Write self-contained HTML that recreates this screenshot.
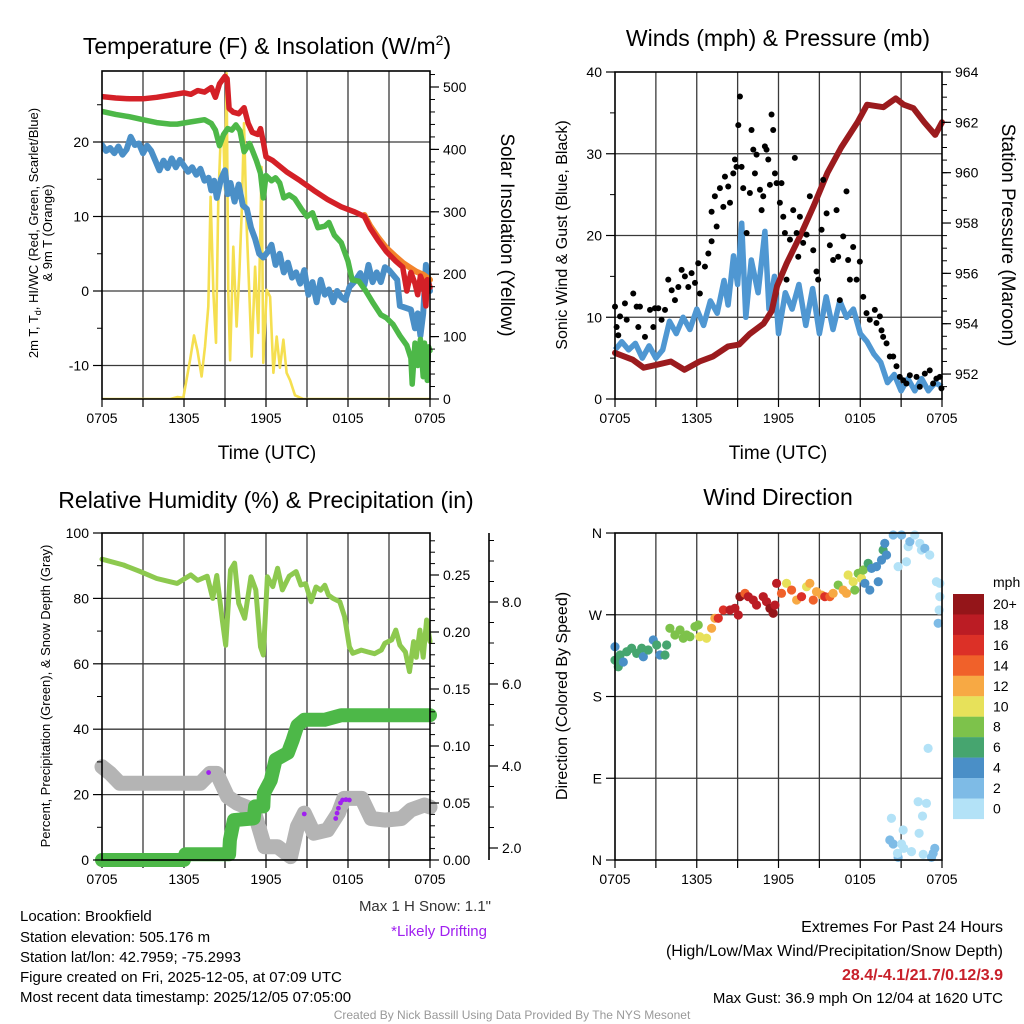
<!DOCTYPE html>
<html><head><meta charset="utf-8">
<style>
html,body{margin:0;padding:0;background:#fff;}
svg{display:block;font-family:"Liberation Sans",sans-serif;}
</style></head>
<body>
<svg id="fig" width="1024" height="1024" viewBox="0 0 1024 1024" xmlns="http://www.w3.org/2000/svg">
<rect x="0" y="0" width="1024" height="1024" fill="#fff"/>
<g id="layer"></g>
<text x="267" y="54" font-size="23" text-anchor="middle">Temperature (F) &amp; Insolation (W/m<tspan dy="-9" font-size="14">2</tspan><tspan dy="9">)</tspan></text>
<text x="778" y="46" font-size="23" text-anchor="middle">Winds (mph) &amp; Pressure (mb)</text>
<text x="266" y="508" font-size="23" text-anchor="middle">Relative Humidity (%) &amp; Precipitation (in)</text>
<text x="778" y="505" font-size="23" text-anchor="middle">Wind Direction</text>
<text x="267" y="459" font-size="19" text-anchor="middle">Time (UTC)</text>
<text x="778" y="459" font-size="19" text-anchor="middle">Time (UTC)</text>
<text transform="translate(38,233) rotate(-90)" font-size="13" text-anchor="middle">2m T, T<tspan font-size="9" dy="3">d</tspan><tspan dy="-3">, HI/WC (Red, Green, Scarlet/Blue)</tspan></text>
<text transform="translate(52,233) rotate(-90)" font-size="13" text-anchor="middle">&amp; 9m T (Orange)</text>
<text transform="translate(501,235) rotate(90)" font-size="19" text-anchor="middle">Solar Insolation (Yellow)</text>
<text transform="translate(567,235) rotate(-90)" font-size="16" text-anchor="middle">Sonic Wind &amp; Gust (Blue, Black)</text>
<text transform="translate(1002,235) rotate(90)" font-size="19" text-anchor="middle">Station Pressure (Maroon)</text>
<text transform="translate(50,696) rotate(-90)" font-size="13" text-anchor="middle">Percent, Precipitation (Green), &amp; Snow Depth (Gray)</text>
<text transform="translate(567,696) rotate(-90)" font-size="16" text-anchor="middle">Direction (Colored By Speed)</text>
<text x="993" y="587" font-size="14">mph</text>
<g font-size="15">
<text x="20" y="921">Location: Brookfield</text>
<text x="20" y="942">Station elevation: 505.176 m</text>
<text x="20" y="962">Station lat/lon: 42.7959; -75.2993</text>
<text x="20" y="982">Figure created on Fri, 2025-12-05, at 07:09 UTC</text>
<text x="20" y="1002">Most recent data timestamp: 2025/12/05 07:05:00</text>
</g>
<text x="491" y="911" font-size="15" text-anchor="end" fill="#333">Max 1 H Snow: 1.1"</text>
<text x="487" y="936" font-size="15" text-anchor="end" fill="#a020f0">*Likely Drifting</text>
<text x="1003" y="932" font-size="16" text-anchor="end">Extremes For Past 24 Hours</text>
<text x="1003" y="956" font-size="16" text-anchor="end">(High/Low/Max Wind/Precipitation/Snow Depth)</text>
<text x="1003" y="980" font-size="16" font-weight="bold" text-anchor="end" fill="#c8202a">28.4/-4.1/21.7/0.12/3.9</text>
<text x="1003" y="1003" font-size="15" text-anchor="end">Max Gust: 36.9 mph On 12/04 at 1620 UTC</text>
<text x="512" y="1019" font-size="12" text-anchor="middle" fill="#999">Created By Nick Bassill Using Data Provided By The NYS Mesonet</text>
</svg>
<script>
// ---------- DATA ----------
const xTickLabels = ["0705","1305","1905","0105","0705"];
// Panel 1: temperature (hours since 0705, F)
const redT = [0,1,2,3,4,5,6,6.5,7,7.5,8,8.3,8.6,9.0,9.15,9.3,9.6,10.0,10.4,10.7,11.0,11.4,11.6,11.8,12.0,12.5,13.5,14.5,15.5,16.5,17.5,18.5,19.2,19.6,20.2,20.8,21.5,22.0,22.3,22.6,22.9,23.1,23.3,23.5,23.7,23.8,24];
const redV = [26.1,25.9,25.8,25.8,26,26.3,26.6,26.4,26.9,26.7,27.3,26,27.8,28.8,28.5,24.5,24,23.8,24.6,22.5,21.3,21,21.8,20,18,17.5,16,14.8,13.5,12.3,11.3,10.6,10,8.5,6.8,5.3,4,3.2,0,2.5,1,-0.5,2,1,-2,1.5,0.5];
const orangeT = [19.2,19.6,20.2,20.8,21.5,22.0,22.5,23,23.5,24];
const orangeV = [10.2,8.8,7.2,5.8,4.6,3.8,3.2,2.6,2.2,1.5];
const greenT = [0,1,2,3,4,5,5.5,6.5,7.5,8,8.3,8.6,8.9,9.2,9.5,9.8,10.1,10.4,10.8,11.0,11.3,11.6,11.8,12.0,12.4,12.7,13.0,13.3,13.7,14.1,14.6,15.0,15.4,15.8,16.3,16.6,17.0,17.5,18.0,18.3,18.8,19.3,19.8,20.4,20.8,21.3,21.8,22.3,22.6,22.7,22.9,23.1,23.3,23.5,23.6,23.8,23.9,24];
const greenV = [24.1,23.7,23.4,23.0,22.6,22.4,22.4,22.7,23,22.5,21.6,19.5,21,21.8,21.6,22.3,21.5,18.7,19.8,18.9,17.5,15.8,12.5,15.5,14.8,15.2,14.5,12.5,12.9,12.4,11,10,10.5,8.5,8.7,9.2,7.5,6.5,4,1.5,1.3,0,-1.5,-3.2,-3.6,-4.5,-6,-7.3,-9,-12.5,-7,-10,-6.5,-11.5,-7,-12,-7.5,-8];
const blueT = [0,0.3,0.6,0.9,1.2,1.5,1.8,2.1,2.4,2.7,3.0,3.3,3.6,3.9,4.2,4.5,4.8,5.1,5.4,5.7,6.0,6.3,6.6,6.9,7.2,7.5,7.8,8.0,8.2,8.4,8.7,9.0,9.2,9.4,9.7,10,10.3,10.6,10.9,11.2,11.5,11.8,12.1,12.4,12.7,13.0,13.3,13.6,13.9,14.2,14.5,14.8,15.1,15.4,15.7,16.0,16.3,16.6,16.9,17.2,17.5,17.8,18.1,18.5,18.9,19.2,19.5,19.8,20.1,20.4,20.7,21.0,21.6,21.8,22.6,22.9,23.1,23.3,23.5,23.7,24];
const blueV = [19.6,18.8,19.2,18.5,19.4,18.3,19,20.7,19.6,19.8,18.5,19.5,18.8,17.5,16.2,17.5,16.5,17.8,16.6,17.6,16.8,16,16.6,15.6,16.4,14.8,15.2,13.5,14.8,12.5,15,16.2,13,14.5,12,14.3,11.5,11,8.5,7,5,4.5,5.2,6.2,3.5,5,2.5,3.8,1.8,2.5,1,2.8,-0.5,1.2,-1.5,1.5,-0.5,0.2,-1.5,0,-0.8,-1.2,0.5,1.3,2.4,0.8,3.5,1.2,2.5,1.2,3.2,2.8,1.5,-2,-2.5,-5,-3,-6,-3,3.5,0];
const solarT = [0,5.0,5.5,5.95,6.44,6.73,6.98,7.29,7.54,7.78,7.95,8.15,8.34,8.51,8.68,8.88,9.0,9.12,9.24,9.37,9.61,9.85,10.05,10.22,10.39,10.59,10.78,10.95,11.2,11.44,11.68,11.8,12.05,12.3,12.54,12.78,13.02,13.27,13.51,13.76,14.12,14.73,24];
const solarV = [0,0,3,2,62,102,78,36,84,148,324,170,90,319,415,420,335,522,170,62,244,116,200,298,442,276,170,68,212,106,372,58,175,164,42,100,50,95,42,30,6,0,0];
// Panel 2: winds
const windT = [0,0.5,1,1.5,2,2.5,3,3.5,4,4.5,5,5.5,6,6.5,7,7.5,8,8.3,8.7,9,9.3,9.6,10,10.5,11,11.3,11.7,12,12.5,13,13.5,14,14.5,15,15.5,16,16.5,17,17.5,18,18.5,19,19.5,20,20.5,21,21.5,22,22.5,23,23.5,24];
const windV = [6.0,7.0,6.0,6.8,5.0,6.5,5.0,6.0,9.5,8,10,8.5,11,9,12,10.5,14.5,11.5,17.5,14,21.5,10,17,13,20.5,11,15,8,13,11,14,9,13.5,8,12.5,8.5,12,10,11,8,7,5.5,4.5,2,3,1,2.5,1,2.5,1,2,1.5];
const gustT = [0,0.12,0.24,0.37,0.73,0.86,1.34,1.59,1.71,1.83,2.2,2.57,2.81,2.93,3.18,3.42,3.67,3.91,4.16,4.4,4.65,4.89,5.13,5.38,5.62,5.87,6.11,6.23,6.6,6.85,7.09,7.09,7.33,7.46,7.7,7.95,8.07,8.31,8.44,8.68,8.8,8.92,9.05,9.17,9.29,9.41,9.66,9.9,10.02,10.15,10.27,10.39,10.64,10.76,10.88,11.0,11.12,11.25,11.37,11.49,11.61,11.74,11.86,12.1,12.22,12.35,12.47,12.59,12.84,13.08,13.2,13.33,13.45,13.57,13.81,14.06,14.3,14.55,14.79,14.91,15.16,15.28,15.53,15.77,16.01,16.26,16.38,16.5,16.75,16.99,17.11,17.24,17.48,17.73,17.97,18.22,18.46,18.7,19.07,19.19,19.44,19.56,19.68,19.93,20.17,20.42,20.66,20.9,21.15,21.39,21.64,22.13,22.37,22.74,23.1,23.35,23.59,23.84,23.96];
const gustV = [11.3,8.8,7.8,10.1,11.7,9.7,12.9,11.3,8.8,11.3,7.6,10.9,8.8,11.1,11.1,9.7,10.9,14.6,13.3,12.1,13.7,15.8,15.0,13.7,15.4,14.2,16.6,12.9,16.2,17.8,19.3,22.9,24.8,21.1,25.8,23.5,27.2,26,24,27.6,29.3,28.4,33.5,37.0,28.4,25.8,20.3,25.2,32.9,30.5,27.6,29.9,25.6,23.1,24.8,30.9,30.5,29.3,26.2,34.8,32.9,27.6,26.4,24,26.4,22.3,20.3,14.6,19.5,23.1,29.5,20.3,17.4,22.3,19.1,20.1,24.8,18.2,15.6,14.6,20.7,26.8,22.7,18.8,17,23.1,17.4,12.1,19.9,25.4,17,14.6,18.6,14.6,16.8,12.5,10.5,9.7,10.9,9.3,10.1,8.4,7.6,6.8,5.2,5.2,4.0,2.7,2.3,1.9,2.9,2.7,1.5,3.1,3.5,1.9,2.5,2.7,1.3];
const presT = [0,1.3,2.1,3.1,4.1,5.1,6.2,7.2,8.3,9.1,9.9,10.9,11.5,11.9,12.6,13.6,14.6,15.6,16.6,17.8,18.5,19.7,20.6,21.2,21.9,22.7,23.5,24];
const presV = [952.84,952.57,952.25,952.37,952.5,952.17,952.5,952.7,953.1,953.17,953.6,954.0,954.5,955.5,956.4,957.5,958.7,960.0,961.0,962.0,962.7,962.6,962.95,962.7,962.56,962.0,961.5,962.0];
// Panel 3: humidity, precipitation, snow depth
const rhT = [0,1.57,2.8,4.0,5.5,6.5,7.0,7.7,8.1,8.4,8.8,9.05,9.4,9.7,10.0,10.44,10.9,11.25,11.6,11.8,12.1,12.5,12.85,13.2,13.7,14.2,14.55,14.9,15.3,15.66,16.0,16.3,16.57,16.9,17.4,17.75,18.1,18.35,18.97,19.46,19.95,20.44,20.7,21.2,21.5,21.8,22.2,22.5,22.8,23.0,23.26,23.5,23.75,24];
const rhV = [92,90.2,88.2,86.1,84.6,87.2,85.5,86.8,80,87,73.4,65.7,88.7,90.8,78.5,73.9,86.6,82.6,65.2,62.7,86.6,83.6,89.2,82.6,86.8,88.2,84.1,84.5,79,83.5,82.5,84,81,80,79,74.4,65.2,63.2,64.2,63.6,63.1,64.2,66.3,67.3,70.3,65.7,63.6,57.6,66.8,62,70.3,62,73.4,66.8];
const precipT = [0,6.0,6.1,9.3,9.36,9.65,11.1,11.2,11.8,11.85,12.35,12.7,13.6,13.95,14.3,14.8,16.3,17.5,24];
const precipV = [0,0,0.005,0.005,0.0175,0.035,0.0365,0.047,0.047,0.0585,0.070,0.088,0.094,0.105,0.118,0.123,0.123,0.127,0.127];
const snowT = [0,0.6,1.3,7.2,7.9,8.4,9.2,9.9,11.1,11.9,12.85,13.8,14.3,14.8,15.5,16.5,17.3,17.7,19.0,19.7,20.7,21.9,22.6,23.6,24];
const snowV = [3.98,3.82,3.58,3.58,3.82,3.82,3.25,3.09,2.93,2.03,2.03,1.79,2.52,2.85,2.36,2.44,2.85,3.21,3.21,2.72,2.68,2.72,2.93,3.05,3.0];
const driftT = [7.8,14.8,17.1,17.2,17.3,17.45,17.6,17.85,18.1];
const driftV = [3.84,2.83,2.72,2.85,2.97,3.1,3.17,3.18,3.17];
// Panel 4: wind direction (hours, degrees, mph)
const dirT = [0,0,0.24,0.37,0.61,0.86,1.22,1.59,1.96,2.08,2.44,2.81,3.06,3.3,3.67,3.79,4.03,4.4,4.77,5.01,5.26,5.5,5.87,6.11,6.23,6.72,7.09,7.33,7.58,7.95,8.44,8.8,9.05,9.17,9.54,9.78,10.15,10.39,10.88,11.12,11.37,11.61,11.74,11.86,12.22,12.59,12.96,13.33,13.69,14.06,14.3,14.55,14.79,15.16,15.4,15.77,16.01,16.38,16.75,16.99,17.11,17.48,17.6,17.85,18.09,18.22,18.34,18.58,18.7,18.83,19.19,19.32,19.56,19.68,19.8,19.93,20.42,20.78,21.03,21.39,21.52,21.64,22.0,22.37,22.49,22.74,23.1,23.59,23.84,23.84,23.79,23.72,22.98,22.25,22.86,22.57,20.29,21.15,22.32,20.17,20.42,20.78,21.2,21.76,23.35,23.47,22.62,23.23,21.03,20.73];
const dirV = [234.8,220,212.7,225.7,218,229.3,233.1,227.5,233.1,223.8,231.2,242.2,236.7,225.7,225.7,236.7,255.1,247.7,253.2,244.1,247.7,245.8,256.9,258.7,245.8,244.1,255.1,266.1,266.1,275.2,275.2,277.1,269.7,289.9,293.6,289.9,286.2,280.7,289.9,284.4,277.1,271.6,280.7,304.6,293.6,304.6,297.2,286.2,289.9,300.9,304.6,286.2,295.4,291.7,289.9,289.9,293.6,302.7,297.2,293.6,313.8,306.4,297.2,315.6,310.1,319.3,304.6,326.6,297.2,321.1,323,306.4,330.3,341.3,348.6,335.8,357.8,323,357.8,328.4,345,350.5,357.8,348.6,341.3,343.1,335.8,306.4,304.6,289.9,275.2,260.6,122.9,64.2,62.4,48.4,45.9,33,29.4,22,17.6,2.9,12.8,9.2,7.3,12.8,6.2,2.9,17.6,7.3];
const dirS = [4,6,6,6,4,6,6,6,6,4,6,4,6,4,6,6,8,8,8,8,8,8,8,8,10,10,12,12,16,16,18,18,18,20,14,18,18,18,18,18,20,20,18,18,14,10,14,12,16,10,12,14,12,12,16,14,12,8,12,12,10,10,8,8,10,8,4,6,4,4,4,4,4,6,4,4,2,0,2,0,0,2,0,0,0,2,0,0,0,0,0,2,0,0,0,0,0,0,0,2,2,2,0,0,2,2,0,2,0,0];
const cbLabels = ["20+","18","16","14","12","10","8","6","4","2","0"];
const cbColors = ["#941519","#bb1c24","#dc3027","#f0612a","#f7a944","#e7e15a","#7dc24b","#46a56f","#4a8fc7","#7ebbe6","#b3e2f7"];

// ---------- DRAWING ----------
const NS = "http://www.w3.org/2000/svg";
const layer = document.getElementById("layer");
function mk(tag, attrs, parent){
  const e = document.createElementNS(NS, tag);
  for (const k in attrs) e.setAttribute(k, attrs[k]);
  (parent||layer).appendChild(e);
  return e;
}
function xs(x0,x1){ return h => x0 + (x1-x0)*h/24; }
function pathFrom(ts, vs, fx, fy){
  let d = "";
  for (let i=0;i<ts.length;i++) d += (i?"L":"M") + fx(ts[i]).toFixed(1) + "," + fy(vs[i]).toFixed(1);
  return d;
}
function frame(x0,x1,y0,y1,yMajors,yMin,name){
  const g = mk("g",{});
  
  
  for (let k=1;k<8;k++){
    const x = x0+(x1-x0)*k/8;
    const l = mk("line",{x1:x,x2:x,y1:y0,y2:y1,stroke:"#3a3a3a","stroke-width":1.3},g);
    
    
  }
  yMajors.forEach(y=>{
    const l = mk("line",{x1:x0,x2:x1,y1:y,y2:y,stroke:"#3a3a3a","stroke-width":1.3},g);
    
    
  });
  for (let k=0;k<=8;k++){
    const x = x0+(x1-x0)*k/8;
    const t = mk("line",{x1:x,x2:x,y1:y1,y2:y1+8,stroke:"#000","stroke-width":1.2},g);
    
    
  }
  xTickLabels.forEach((s,i)=>{
    const t = mk("text",{x:x0+(x1-x0)*i/4,y:y1+24,"font-size":14,"text-anchor":"middle"},g);
    t.textContent = s;
    
    
  });
  return g;
}
function border(x0,x1,y0,y1,name){
  const r = mk("rect",{x:x0,y:y0,width:x1-x0,height:y1-y0,fill:"none",stroke:"#000","stroke-width":1.6});
  
  
}
function yTicks(x, vals, fy, labels, side, minorVals, name, fs){
  const g = mk("g",{});
  
  
  const dir = side==="left"?-1:1;
  (minorVals||[]).forEach(v=>{
    const t = mk("line",{x1:x,x2:x+dir*5,y1:fy(v),y2:fy(v),stroke:"#000","stroke-width":1},g);
    
    
  });
  vals.forEach((v,i)=>{
    const y = fy(v);
    const t = mk("line",{x1:x,x2:x+dir*9,y1:y,y2:y,stroke:"#000","stroke-width":1.2},g);
    
    
    const tx = mk("text",{x:x+dir*13,y:y+5,"font-size":fs||14,"text-anchor":side==="left"?"end":"start"},g);
    tx.textContent = labels[i];
    
    
  });
}
function range(a,b,s){ const r=[]; for(let v=a; v<=b+1e-9; v+=s) r.push(+v.toFixed(4)); return r; }

// ===== Panel 1 =====
{
  const x0=102,x1=430,y0=71,y1=399;
  const fx = xs(x0,x1);
  const fy = v => 291 - 7.45*v;
  const fr = w => 399 - 0.624*w;
  frame(x0,x1,y0,y1,[fy(20),fy(10),fy(0),fy(-10)],0,"temperature");
  const cl = mk("clipPath",{id:"c1"}); mk("rect",{x:x0,y:y0-8,width:x1-x0+4,height:y1-y0+8},cl);
  const g = mk("g",{"clip-path":"url(#c1)"});
  
  
  const series = [
    [solarT,solarV,fr,"#f5df50",2.6,"solar-insolation-line"],
    [blueT,blueV,fy,"#4a8fc7",6,"dewpoint-line"],
    [greenT,greenV,fy,"#4db848",5.5,"heat-index-windchill-line"],
    [orangeT,orangeV,fy,"#f3832b",6,"temperature-9m-line"],
    [redT,redV,fy,"#d42027",5.5,"temperature-2m-line"]
  ];
  series.forEach(s=>{
    const p = mk("path",{d:pathFrom(s[0],s[1],fx,s[2]),fill:"none",stroke:s[3],"stroke-width":s[4],"stroke-linejoin":"round","stroke-linecap":"round"},g);
    
    
  });
  border(x0,x1,y0,y1,"temperature");
  yTicks(x0,[20,10,0,-10],fy,["20","10","0","-10"],"left",[25,15,5,-5],"temperature-y-axis");
  yTicks(x1,[0,100,200,300,400,500],fr,["0","100","200","300","400","500"],"right",range(20,520,20),"solar-y-axis");
}
// ===== Panel 2 =====
{
  const x0=615,x1=942,y0=72,y1=399;
  const fx = xs(x0,x1);
  const fy = v => 399 - 8.175*v;
  const fp = p => 72 + (964-p)*25.17;
  frame(x0,x1,y0,y1,[fy(10),fy(20),fy(30)],0,"winds");
  const g = mk("g",{});
  
  
  const w = mk("path",{d:pathFrom(windT,windV,fx,fy),fill:"none",stroke:"#4f97d2","stroke-width":5.5,"stroke-linejoin":"round"},g);
  
  
  const p = mk("path",{d:pathFrom(presT,presV,fx,fp),fill:"none",stroke:"#9b1b1e","stroke-width":6,"stroke-linejoin":"round","stroke-linecap":"round"},g);
  
  
  gustT.forEach((t,i)=>{
    const c = mk("circle",{cx:fx(t),cy:fy(gustV[i]),r:3,fill:"#000"},g);
    
    
  });
  border(x0,x1,y0,y1,"winds");
  yTicks(x0,[0,10,20,30,40],fy,["0","10","20","30","40"],"left",[5,15,25,35],"wind-y-axis");
  yTicks(x1,[952,954,956,958,960,962,964],fp,["952","954","956","958","960","962","964"],"right",range(951.5,963.5,0.5),"pressure-y-axis");
}
// ===== Panel 3 =====
{
  const x0=102,x1=430,y0=533,y1=860;
  const fx = xs(x0,x1);
  const fy = v => 860 - 3.27*v;
  const fpr = p => 860 - 1140*p;
  const fs = s => 848 - 41*(s-2);
  frame(x0,x1,y0,y1,[fy(80),fy(60),fy(40),fy(20)],0,"humidity");
  const g = mk("g",{});
  
  
  const sn = mk("path",{d:pathFrom(snowT,snowV,fx,fs),fill:"none",stroke:"#b4b4b4","stroke-width":15,"stroke-linejoin":"round","stroke-linecap":"round"},g);
  
  
  const pr = mk("path",{d:pathFrom(precipT,precipV,fx,fpr),fill:"none",stroke:"#4db848","stroke-width":14,"stroke-linejoin":"round","stroke-linecap":"round"},g);
  
  
  const rh = mk("path",{d:pathFrom(rhT,rhV,fx,fy),fill:"none",stroke:"#8dc94f","stroke-width":5,"stroke-linejoin":"round","stroke-linecap":"round"},g);
  
  
  driftT.forEach((t,i)=>{
    const c = mk("circle",{cx:fx(t),cy:fs(driftV[i]),r:2.4,fill:"#a020f0"},g);
    
    
  });
  border(x0,x1,y0,y1,"humidity");
  yTicks(x0,[0,20,40,60,80,100],fy,["0","20","40","60","80","100"],"left",[10,30,50,70,90],"humidity-y-axis");
  yTicks(x1,[0,0.05,0.10,0.15,0.20,0.25],fpr,["0.00","0.05","0.10","0.15","0.20","0.25"],"right",range(0.01,0.28,0.01),"precip-y-axis");
  const ax = mk("line",{x1:489,x2:489,y1:533,y2:860,stroke:"#000","stroke-width":1.6});
  
  
  yTicks(489,[2,4,6,8],fs,["2.0","4.0","6.0","8.0"],"right",[2.5,3,3.5,4.5,5,5.5,6.5,7,7.5,8.5,9,9.5],"snow-y-axis");
}
// ===== Panel 4 =====
{
  const x0=615,x1=942,y0=533,y1=860;
  const fx = xs(x0,x1);
  const fy = d => 860 - 0.9083*d;
  frame(x0,x1,y0,y1,[fy(90),fy(180),fy(270)],0,"direction");
  const g = mk("g",{});
  
  
  dirT.forEach((t,i)=>{
    const s = dirS[i];
    const idx = Math.max(0, 10 - Math.min(10, Math.floor(s/2)));
    const c = mk("circle",{cx:fx(t),cy:fy(dirV[i]),r:4.6,fill:cbColors[idx]},g);
    
    
  });
  border(x0,x1,y0,y1,"direction");
  yTicks(x0,[0,90,180,270,360],fy,["N","E","S","W","N"],"left",[],"direction-y-axis");
  const cb = mk("g",{});
  
  
  cbColors.forEach((c,i)=>{
    const r = mk("rect",{x:953,y:594+i*20.45,width:31,height:20.6,fill:c},cb);
    
    
    const t = mk("text",{x:993,y:594+i*20.45+15,"font-size":14},cb);
    t.textContent = cbLabels[i];
    
    
  });
}
</script>
</body></html>
